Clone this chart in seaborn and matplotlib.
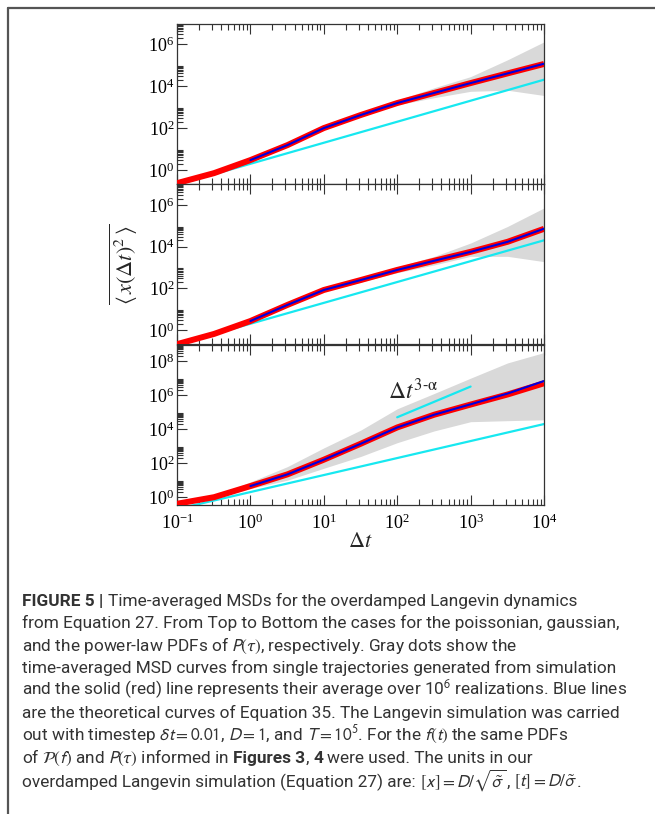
import numpy as np
import pandas as pd
import matplotlib
matplotlib.use("Agg")
import matplotlib.pyplot as plt
import seaborn as sns
from matplotlib.ticker import LogLocator, NullFormatter, LogFormatterSciNotation
from matplotlib.lines import Line2D

# ---------------- data ----------------
t_grid = [0.1, 0.32, 1, 3.2, 10, 32, 100, 320, 1000, 3200, 10000]
t_theory = [1, 3.2, 10, 32, 100, 320, 1000, 3200, 10000]
t_ref = [0.1, 10000]
ref_vals = [0.2, 20000]
t_slope = [100, 1000]
slope_vals = [50000, 3.2e6]

# top panel (poissonian)
top_avg = [0.24, 0.72, 3.0, 15.5, 100, 420, 1550, 4700, 13800, 40000, 112000]
top_theory = [3.0, 15.5, 100, 420, 1550, 4700, 13800, 40000, 115000]
top_low = [0.22, 0.66, 2.7, 13.5, 85, 355, 1260, 2800, 5600, 6300, 3550]
top_high = [0.26, 0.79, 3.4, 17.8, 117, 525, 2100, 8300, 28000, 178000, 1.26e6]

# middle panel (gaussian)
mid_avg = [0.21, 0.65, 2.7, 16, 83, 250, 760, 2100, 5600, 17000, 71000]
mid_theory = [2.7, 16, 83, 250, 760, 2100, 5600, 17000, 72000]
mid_low = [0.195, 0.59, 2.4, 13.5, 69, 200, 560, 1320, 3400, 3400, 1900]
mid_high = [0.23, 0.71, 3.0, 18.6, 100, 316, 1050, 3400, 14800, 93000, 710000]

# bottom panel (power-law)
bot_avg = [0.41, 1.0, 4.5, 22, 160, 1400, 12600, 71000, 280000, 1.1e6, 5e6]
bot_theory = [4.5, 22, 160, 1400, 12600, 71000, 290000, 1.25e6, 6.8e6]
bot_low = [0.37, 0.89, 3.2, 10, 50, 250, 1600, 7900, 27500, 31600, 35500]
bot_high = [0.45, 1.12, 7.9, 63, 790, 8900, 158000, 1.26e6, 1e7, 7.9e7, 3.2e8]

xticks = [0.1, 1, 10, 100, 1000, 10000]
yticks = [[1, 1e2, 1e4, 1e6], [1, 1e2, 1e4, 1e6], [1, 1e2, 1e4, 1e6, 1e8]]
xlims = (0.1, 1e4)
ylims = [(10 ** -0.66, 10 ** 6.95), (10 ** -0.67, 10 ** 7.0), (10 ** -0.46, 10 ** 8.95)]

caption_lines = [
    [("FIGURE 5 |", "bold"), ("Time-averaged MSDs for the overdamped Langevin dynamics", "normal")],
    [("from Equation 27. From Top to Bottom the cases for the poissonian, gaussian,", "normal")],
    [(r"and the power-law PDFs of $P(\tau)$, respectively. Gray dots show the", "normal")],
    [("time-averaged MSD curves from single trajectories generated from simulation", "normal")],
    [(r"and the solid (red) line represents their average over 10$^6$ realizations. Blue lines", "normal")],
    [("are the theoretical curves of Equation 35. The Langevin simulation was carried", "normal")],
    [(r"out with timestep $\delta t=0.01$, $D=1$, and $T=10^5$. For the $f(t)$ the same PDFs", "normal")],
    [(r"of $\mathcal{P}(f)$ and $P(\tau)$ informed in", "normal"), ("Figures 3", "bold"),
     (",", "normal_nospace"), ("4", "bold"), ("were used. The units in our", "normal")],
    [("overdamped Langevin simulation (Equation 27) are:", "normal"),
     (r"$[x]=D/\sqrt{\tilde{\sigma}}$", "normal"), (",", "normal_nospace"),
     (r"$[t]=D/\tilde{\sigma}$", "normal"), (".", "normal_nospace")],
]

# ---------------- style ----------------
sns.set_theme(style="white")
plt.rcParams["font.family"] = ["Liberation Serif", "DejaVu Serif"]
plt.rcParams["mathtext.fontset"] = "stix"

W, H = 655, 814
fig = plt.figure(figsize=(W / 100, H / 100), dpi=100)
fig.patch.set_facecolor("white")

left = 177 / W
width = (544 - 177) / W
tops = [24, 184, 345]
ph = 160 / H

panels = [
    (top_avg, top_theory, top_low, top_high),
    (mid_avg, mid_theory, mid_low, mid_high),
    (bot_avg, bot_theory, bot_low, bot_high),
]

axes = []
for i, (avg, th, lo, hi) in enumerate(panels):
    ax = fig.add_axes([left, 1 - (tops[i] + 160) / H, width, ph])
    ax.set_xscale("log")
    ax.set_yscale("log")
    ax.fill_between(t_grid, lo, hi, color="#d9d9d9", lw=0, zorder=1)
    sns.lineplot(x=t_ref, y=ref_vals, ax=ax, color="#17e8f0", lw=1.6, zorder=2, estimator=None)
    if i == 2:
        sns.lineplot(x=t_slope, y=slope_vals, ax=ax, color="#17e8f0", lw=1.6, zorder=2, estimator=None)
    sns.lineplot(x=t_grid, y=avg, ax=ax, color="#ff0000", lw=4.3, zorder=3, estimator=None,
                 solid_capstyle="butt", solid_joinstyle="round")
    sns.lineplot(x=t_theory, y=th, ax=ax, color="#0000e0", lw=1.5, zorder=4, estimator=None,
                 solid_joinstyle="round")
    ax.set_xlim(*xlims)
    ax.set_ylim(*ylims[i])
    ax.set_xticks(xticks)
    ax.xaxis.set_minor_locator(LogLocator(base=10, subs=np.arange(2, 10), numticks=50))
    ax.xaxis.set_minor_formatter(NullFormatter())
    ax.set_yticks(yticks[i])
    ax.yaxis.set_minor_locator(LogLocator(base=100, subs=np.arange(2, 10), numticks=50))
    ax.yaxis.set_major_formatter(LogFormatterSciNotation(base=10))
    ax.yaxis.set_minor_formatter(NullFormatter())
    ax.set_xlim(*xlims)
    ax.set_ylim(*ylims[i])
    ax.tick_params(which="both", direction="in", bottom=True, top=True, left=True, right=False,
                   color="#333333", width=0.8, labelsize=13, labelcolor="black")
    ax.tick_params(which="major", length=7)
    ax.tick_params(which="minor", length=4)
    ax.tick_params(axis="y", pad=2)
    ax.tick_params(axis="x", pad=6)
    for sp in ax.spines.values():
        sp.set_color("#333333")
        sp.set_linewidth(0.9)
    ax.set_xlabel("")
    ax.set_ylabel("")
    if i < 2:
        ax.xaxis.set_major_formatter(NullFormatter())
        ax.tick_params(axis="x", labelbottom=False)
    axes.append(ax)

axes[2].set_xlabel(r"$\Delta t$", fontsize=16, labelpad=0)
axes[1].set_ylabel(r"$\overline{\langle\, x(\Delta t)^2\,\rangle}$", fontsize=16)
axes[1].yaxis.set_label_coords(-0.1, 0.5)
axes[2].text(74, 10 ** 6.2, r"$\Delta t^{\text{3-α}}$", fontsize=17, ha="left", va="center")

# ---------------- frame lines ----------------
bx = 7.5 / W
by = 1 - 7.5 / H
fig.add_artist(Line2D([bx, 1], [by, by], transform=fig.transFigure, color="#555555", lw=1.6))
fig.add_artist(Line2D([bx, bx], [0, by], transform=fig.transFigure, color="#555555", lw=1.6))

# ---------------- caption ----------------
cap_family = ["Roboto", "DejaVu Sans"]
renderer = fig.canvas.get_renderer()


def measure(s, size, weight="normal"):
    t = fig.text(0, 0, s, fontsize=size, fontweight=weight, family=cap_family,
                 math_fontfamily="stixsans")
    w = t.get_window_extent(renderer).width
    t.remove()
    return w


base = 10.0
wline = measure(caption_lines[1][0][0], base)
size = base * 598 / wline
space = measure("a a", size) - measure("aa", size)

x0 = 22
y0 = 606
dy = 22.4
for i, segs in enumerate(caption_lines):
    x = x0
    y = y0 + dy * i + (1.5 if i == 8 else 0)
    for j, (s, kind) in enumerate(segs):
        if j > 0 and kind != "normal_nospace":
            x += space
        weight = "bold" if kind == "bold" else "normal"
        t = fig.text(x / W, 1 - y / H, s, fontsize=size, fontweight=weight, family=cap_family,
                     math_fontfamily="stixsans", color="#333333", ha="left", va="baseline")
        x += t.get_window_extent(renderer).width

fig.savefig("out.png", dpi=100, facecolor="white")
